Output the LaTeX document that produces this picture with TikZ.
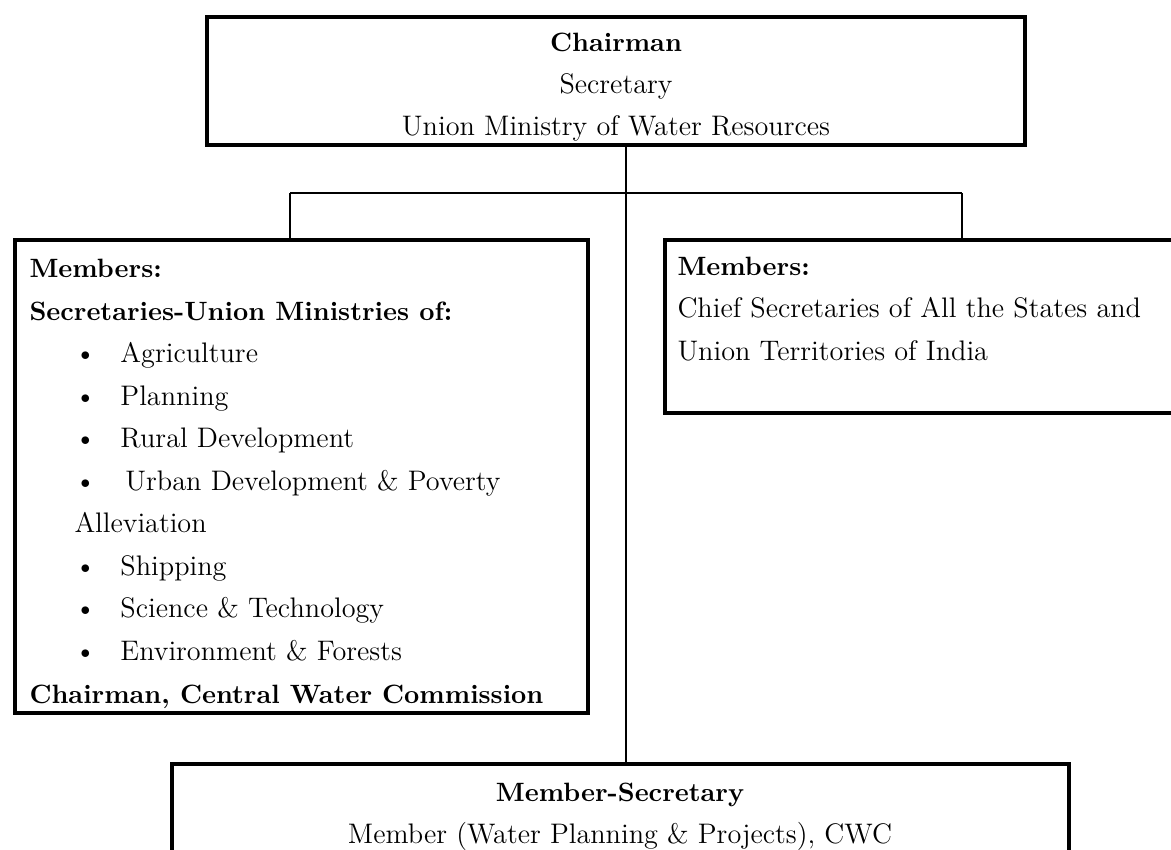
\documentclass[tikz,border=0pt]{standalone}
\usetikzlibrary{fit,calc}
\tikzset{
    panel/.style = {
        draw,
        line width = 1.7pt,
        inner sep = 0pt,
        },
    link/.style = {
        draw,
        line width = 0.7pt,
        },
    entry/.style = {
        inner sep = 0pt,
        },
}
% headings are set a little smaller, bold runs wide
\newcommand{\hd}[1]{{\fontsize{10.6}{13}\selectfont\bfseries #1}}
% bullet with the indent of the ministry list
\newcommand{\bul}{\hspace*{18pt}\makebox[18.4pt][l]{\textbullet}}

\begin{document}
\begin{tikzpicture}[x=0.4pt, y=-0.4pt,
            every node/.append style={font=\fontsize{11.3}{13.6}\selectfont}]
\useasboundingbox (0,0) rectangle (1171,850);
\clip (0,0) rectangle (1171,850);

% boxes
\node [panel, fit={(207,17) (1025,145)}] (chair) {};
\node [panel, fit={(15,240) (588,713)}] (central) {};
\node [panel, fit={(665,240) (1200,413)}] (states) {};
\node [panel, fit={(172,764) (1069,900)}] (memsec) {};

% chairman
\node [entry, anchor=base] (chair1) at (616,52) {\hd{Chairman}};
\node [entry, anchor=base] (chair2) at (616,94) {Secretary};
\node [entry, anchor=base] (chair3) at (616,136) {Union Ministry of Water Resources};

% union ministries
\foreach \t [count=\i from 0] in {
    \hd{Members:},
    \hd{Secretaries-Union Ministries of:},
    \bul Agriculture,
    \bul Planning,
    \bul Rural Development,
    \bul\hspace{2pt}Urban Development \& Poverty,
    \hspace*{18pt}Alleviation,
    \bul Shipping,
    \bul Science \& Technology,
    \bul Environment \& Forests,
    {\hd{Chairman, Central Water Commission}}}
    \node [entry, anchor=base west] (c\i) at (29,{278+42.5*\i}) {\t};

% states
\node [entry, anchor=base west] (s0) at (677,276) {\hd{Members:}};
\node [entry, anchor=base west] (s1) at (677,318) {Chief Secretaries of All the States and};
\node [entry, anchor=base west] (s2) at (677,361) {Union Territories of India};

% member-secretary
\node [entry, anchor=base] (m0) at (620,801) {\hd{Member-Secretary}};
\node [entry, anchor=base] (m1) at (620,843) {Member (Water Planning \& Projects), CWC};

% connectors
\coordinate (hub) at (626,193);
\coordinate (hubL) at (290,193);
\coordinate (hubR) at (962,193);
\draw [link] (chair.south -| hub) -- (memsec.north -| hub);
\draw [link] (hubL) -- (hubR);
\draw [link] (hubL) -- (hubL |- central.north);
\draw [link] (hubR) -- (hubR |- states.north);
\end{tikzpicture}
\end{document}
